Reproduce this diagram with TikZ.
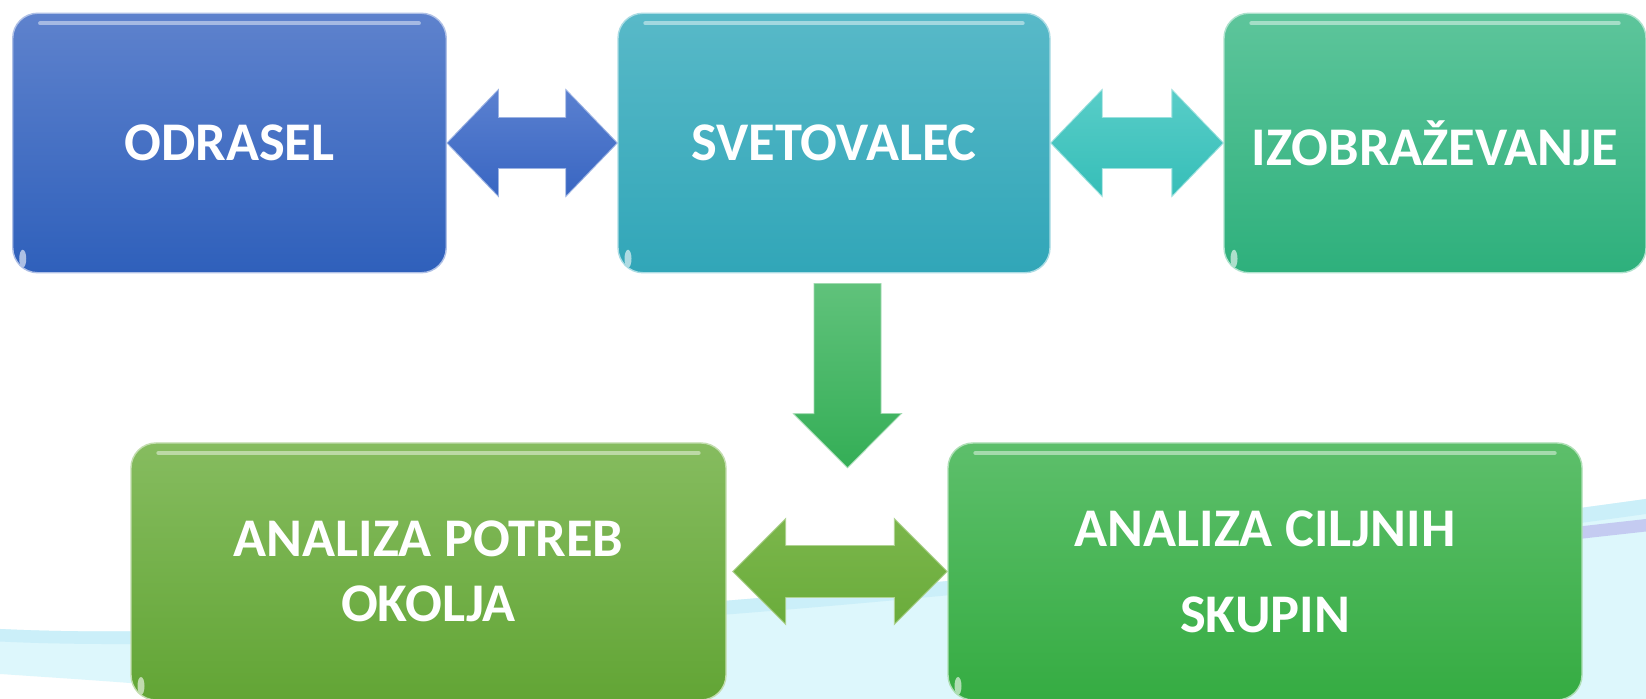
\documentclass[tikz,border=0pt]{standalone}
\usepackage{fontspec}
\setmainfont{Carlito}
\usetikzlibrary{calc}

% box colours (top / bottom)
\definecolor{odraseltop}{HTML}{5E82CD}
\definecolor{odraselbot}{HTML}{2F60BB}
\definecolor{svettop}{HTML}{58B9C8}
\definecolor{svetbot}{HTML}{31A6B8}
\definecolor{izobtop}{HTML}{5DC59B}
\definecolor{izobbot}{HTML}{2EB07C}
\definecolor{potrebtop}{HTML}{86BC5F}
\definecolor{potrebbot}{HTML}{62A535}
\definecolor{ciljtop}{HTML}{5DBF6B}
\definecolor{ciljbot}{HTML}{35AC42}
% arrow colours
\definecolor{arrbluetop}{HTML}{5A80D0}
\definecolor{arrbluebot}{HTML}{3966C2}
\definecolor{arrtealtop}{HTML}{58CDC8}
\definecolor{arrtealbot}{HTML}{36BEB8}
\definecolor{arrgreentop}{HTML}{7BB64B}
\definecolor{arrgreenbot}{HTML}{6AAC3B}
\definecolor{arrdowntop}{HTML}{60C27B}
\definecolor{arrdownbot}{HTML}{34AE56}
% background swoosh
\definecolor{swooshlight}{HTML}{DDF7FC}
\definecolor{swooshdeep}{HTML}{CBEFF9}
\definecolor{swooshlilac}{HTML}{C4CBF1}

\begin{document}
\begin{tikzpicture}[
        box/.style={rounded corners=0.5cm, minimum height=5.19cm, inner sep=0pt, text=white,
            align=center, font=\fontsize{31}{37}\selectfont\bfseries, line width=0.8pt,
            path picture={
                \draw[white, opacity=0.45, line width=2.5pt, line cap=round]
                    ([xshift=0.55cm,yshift=-0.2cm]path picture bounding box.north west) --
                    ([xshift=-0.55cm,yshift=-0.2cm]path picture bounding box.north east);
                \fill[white, opacity=0.6, rotate around={-40:([xshift=0.2cm,yshift=0.28cm]path picture bounding box.south west)}]
                    ([xshift=0.2cm,yshift=0.28cm]path picture bounding box.south west) ellipse (0.07cm and 0.18cm);
            }},
        arrowblue/.style={top color=arrbluetop, bottom color=arrbluebot, draw=arrbluetop!60!white, line width=0.5pt},
        arrowteal/.style={top color=arrtealtop, bottom color=arrtealbot, draw=arrtealtop!60!white, line width=0.5pt},
        arrowgreen/.style={top color=arrgreentop, bottom color=arrgreenbot, draw=arrgreentop!60!white, line width=0.5pt},
        arrowdown/.style={top color=arrdowntop, bottom color=arrdownbot, draw=arrdowntop!60!white, line width=0.5pt}
    ]
        \useasboundingbox (0,0) rectangle (32.92,13.98);
        \fill[white] (0,0) rectangle (32.92,13.98);

        % Background swoosh
        \fill[swooshlight] (0,1.4) .. controls (6,1.1) and (20,2.2) .. (32.92,4.0)
            -- (32.92,0) -- (6,0) .. controls (3,0.3) .. (0,0.5) -- cycle;
        \fill[swooshdeep] (0,1.4) .. controls (6,1.1) and (20,2.2) .. (32.92,4.0)
            -- (32.92,3.7) .. controls (20,1.9) and (6,0.85) .. (0,1.15) -- cycle;
        \fill[swooshlilac] (24,2.75) .. controls (28,3.05) .. (32.92,3.6)
            -- (32.92,3.35) .. controls (28,2.8) .. (24,2.65) -- cycle;

        % Top row
        \node[box, minimum width=8.67cm, top color=odraseltop, bottom color=odraselbot,
            draw=odraseltop!50!white] (odrasel) at (4.59,11.12) {ODRASEL};
        \node[box, minimum width=8.64cm, top color=svettop, bottom color=svetbot,
            draw=svettop!50!white] (svetovalec) at (16.68,11.12) {SVETOVALEC};
        \node[box, minimum width=8.44cm, top color=izobtop, bottom color=izobbot,
            draw=izobtop!50!white] (izobrazevanje) at (28.70,11.12) {IZOBRAŽEVANJE};

        % Bottom row
        \node[box, minimum width=11.9cm, minimum height=5.14cm, top color=potrebtop, bottom color=potrebbot,
            draw=potrebtop!50!white] (potreb) at (8.57,2.55) {ANALIZA POTREB\\OKOLJA};
        \node[box, minimum width=12.68cm, minimum height=5.14cm, top color=ciljtop, bottom color=ciljbot,
            draw=ciljtop!50!white] (ciljnih) at (25.30,2.55) {ANALIZA CILJNIH\\[12pt]SKUPIN};

        % Double arrows
        \path[arrowblue] (odrasel.east) -- ++(1.03,1.07) -- ++(0,-0.56)
            -- ($(svetovalec.west)+(-1.03,0.51)$) -- ++(0,0.56) -- (svetovalec.west)
            -- ++(-1.03,-1.07) -- ++(0,0.56) -- ($(odrasel.east)+(1.03,-0.51)$) -- ++(0,-0.56) -- cycle;
        \path[arrowteal] (svetovalec.east) -- ++(1.03,1.07) -- ++(0,-0.56)
            -- ($(izobrazevanje.west)+(-1.03,0.51)$) -- ++(0,0.56) -- (izobrazevanje.west)
            -- ++(-1.03,-1.07) -- ++(0,0.56) -- ($(svetovalec.east)+(1.03,-0.51)$) -- ++(0,-0.56) -- cycle;
        \coordinate (potrebtip) at ($(potreb.east)+(0.12,0)$);
        \path[arrowgreen] (potrebtip) -- ++(1.06,1.06) -- ++(0,-0.54)
            -- ($(ciljnih.west)+(-1.06,0.52)$) -- ++(0,0.54) -- (ciljnih.west)
            -- ++(-1.06,-1.06) -- ++(0,0.54) -- ($(potrebtip)+(1.06,-0.52)$) -- ++(0,-0.54) -- cycle;

        % Down arrow
        \coordinate (downtip) at ($(svetovalec.south)+(0.27,-3.885)$);
        \path[arrowdown] ($(svetovalec.south)+(-0.40,-0.20)$) -- ++(1.34,0) -- ++(0,-2.6) -- ++(0.41,0)
            -- (downtip) -- ++(-1.08,1.08) -- ++(0.41,0) -- cycle;
    \end{tikzpicture}
\end{document}
